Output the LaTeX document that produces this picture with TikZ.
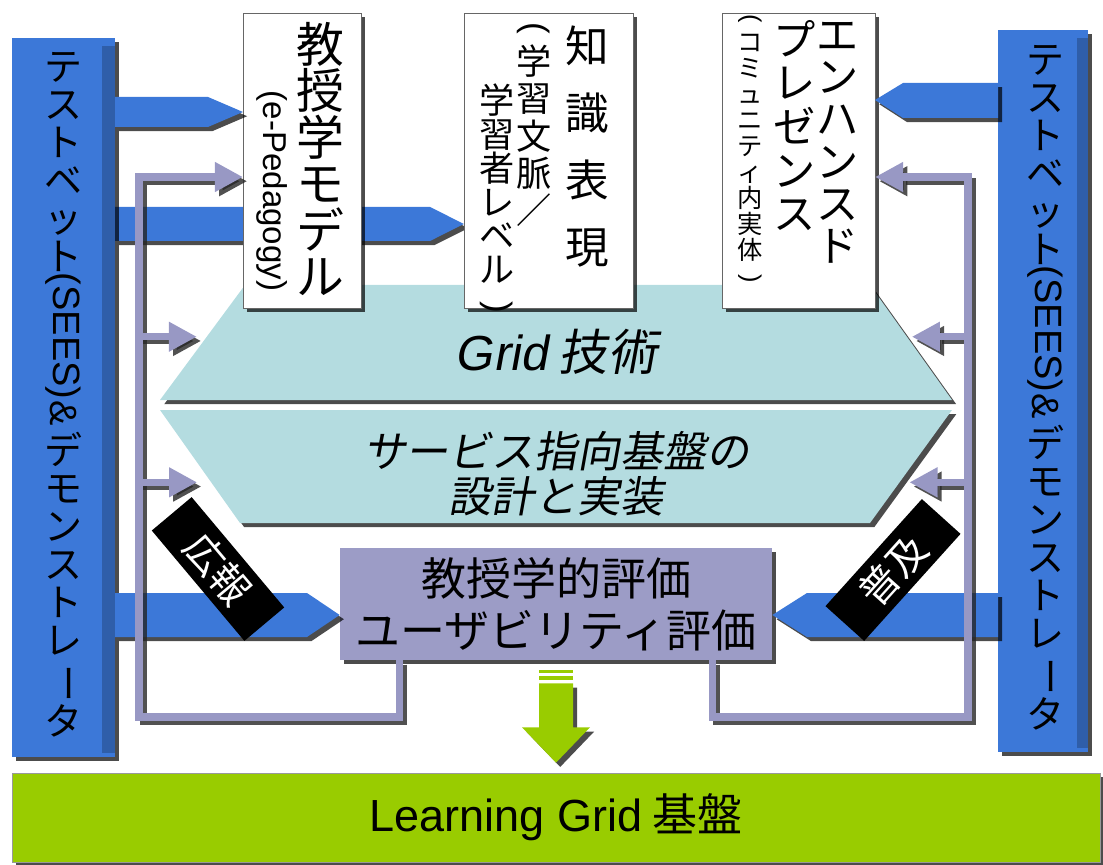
\documentclass[tikz,border=0pt]{standalone}
\usepackage{fontspec}
\usepackage{graphicx}
\usetikzlibrary{arrows.meta,positioning,calc,shadows,backgrounds}

\newfontfamily\jp{Noto Sans CJK JP}
\newfontfamily\jpsl[FakeSlant=0.18]{Noto Sans CJK JP}
\newfontfamily\lat{Liberation Sans}
\newfontfamily\latsl[FakeSlant=0.18]{Liberation Sans}
\newcommand{\rotv}[1]{\rotatebox[origin=c]{-90}{#1}}

\definecolor{barblue}{HTML}{3C78D8}
\definecolor{fblav}{HTML}{9898C4}
\definecolor{evallav}{HTML}{9C9CC6}
\definecolor{gridcyan}{HTML}{B4DCE0}
\definecolor{basegreen}{HTML}{99CC00}

\begin{document}
\begin{tikzpicture}[x=0.025cm, y=-0.025cm,
    dshadow/.style={drop shadow={shadow xshift=3pt, shadow yshift=-3pt, opacity=.7, fill=black}},
    bar/.style={fill=barblue, dshadow, inner sep=0pt, outer sep=0pt},
    topbox/.style={draw=black!60, line width=0.4pt, fill=white, dshadow, inner sep=0pt, outer sep=0pt, minimum height=7.375cm},
    tate/.style={align=center, inner sep=0pt, anchor=north},
    blueflow/.style={fill=barblue, dshadow},
    gridband/.style={fill=gridcyan, dshadow},
    feed/.style={draw=fblav, line width=5pt, -{Triangle[length=20pt,width=20pt]}},
    feedshadow/.style={feed, draw=black!85, opacity=.8, transform canvas={xshift=3pt,yshift=-3pt}},
    tag/.style={fill=black, text=white, font=\jp\fontsize{28}{28}\selectfont, minimum width=3.6cm, minimum height=1.3cm, inner sep=0pt},
]
\useasboundingbox (0,0) rectangle (1103,865);

% Base
\node[fill=basegreen, draw=black!40, line width=0.4pt, dshadow, minimum width=27.2cm, minimum height=2.225cm, inner sep=0pt,
    font=\jp\fontsize{32}{32}\selectfont] (base) at (556,817.5) {{\lat Learning Grid} 基盤};

% Testbed bars
\node[bar, minimum width=2.575cm, minimum height=17.975cm] (lbar) at (63.5,397.5) {};
\node[bar, minimum width=2.25cm, minimum height=18.05cm] (rbar) at (1043,391) {};
\fill[barblue!78!black] ($(lbar.north east)+(-13,8)$) rectangle ($(lbar.south east)+(0,-4)$);
\fill[barblue!78!black] ($(rbar.north east)+(-11,8)$) rectangle ($(rbar.south east)+(0,-4)$);

% Grid / service layers
\coordinate (gtW) at (160,400); \coordinate (gtNW) at (245,285);
\coordinate (gtNE) at (870,285); \coordinate (gtE) at (952,400);
\coordinate (sdW) at (160,410); \coordinate (sdE) at (952,410);
\coordinate (sdSE) at (870,523); \coordinate (sdSW) at (240,523);
\fill[gridband] (gtW) -- (gtNW) -- (gtNE) -- (gtE) -- cycle;
\fill[gridband] (sdW) -- (sdE) -- (sdSE) -- (sdSW) -- cycle;
\node[font=\jpsl\fontsize{35}{35}\selectfont] (gridtech) at (556,352) {{\latsl Grid} 技術};
\node[font=\jpsl\fontsize{30.5}{32}\selectfont, align=center] (soa) at (556,474) {サービス指向基盤の\\設計と実装};

% Top boxes
\node[topbox, minimum width=2.95cm] (boxA) at (302,160.5) {};
\node[topbox, minimum width=4.225cm] (boxB) at (548.5,160.5) {};
\node[topbox, minimum width=3.825cm] (boxC) at (798.5,160.5) {};

% Evaluation
\node[fill=evallav, dshadow, minimum width=10.8cm, minimum height=2.8cm, inner sep=0pt, align=center,
    font=\jp\fontsize{32}{37}\selectfont] (eval) at (556,604) {教授学的評価\\ユーザビリティ評価};

% Flows from the testbeds
\fill[blueflow] (lbar.east |- 0,97) -- (208,97) -- (boxA.west |- 0,112) -- (208,127) -- (lbar.east |- 0,127) -- cycle;
\begin{scope}[on background layer]
\fill[blueflow] (lbar.east |- 0,207) -- (430,207) -- (boxB.west |- 0,224) -- (430,241) -- (lbar.east |- 0,241) -- cycle;
\end{scope}
\fill[blueflow] (rbar.west |- 0,83) -- (903,83) -- (boxC.east |- 0,100) -- (903,118) -- (rbar.west |- 0,118) -- cycle;
\fill[blueflow] (lbar.east |- 0,593) -- (307,593) -- (eval.west |- 0,615) -- (307,637) -- (lbar.east |- 0,637) -- cycle;
\fill[blueflow] (rbar.west |- 0,593) -- (807,593) -- (eval.east |- 0,615) -- (807,637) -- (rbar.west |- 0,637) -- cycle;

% Vertical texts
\node[tate, font=\jp\fontsize{27}{27}\selectfont] (ltxt) at (63,52)
    {テ\\ス\\ト\\ベ\\ッ\\ト\\\rotv{\lat(SEES)}\\\rotv{\lat\&}\\デ\\モ\\ン\\ス\\ト\\レ\\\rotv{ー}\\タ};
\node[tate, font=\jp\fontsize{27}{27}\selectfont] (rtxt) at (1045,45)
    {テ\\ス\\ト\\ベ\\ッ\\ト\\\rotv{\lat(SEES)}\\\rotv{\lat\&}\\デ\\モ\\ン\\ス\\ト\\レ\\\rotv{ー}\\タ};
\node[tate, font=\jp\fontsize{34}{33}\selectfont] (tA1) at (320,22) {教\\授\\学\\モ\\デ\\ル};
\node[rotate=-90, inner sep=0pt, font=\lat\fontsize{23.5}{24}\selectfont] (tA2) at (272,191) {(e-Pedagogy)};
\node[tate, font=\jp\fontsize{31}{47.5}\selectfont] (tB1) at (587,26) {知\\識\\表\\現};
\node[tate, font=\jp\fontsize{25}{26.5}\selectfont] (tB2) at (534,22) {\rotv{\lat(}\\学\\習\\文\\脈\\／};
\node[tate, font=\jp\fontsize{25}{24}\selectfont] (tB3) at (497,84) {学\\習\\者\\レ\\ベ\\ル\\\rotv{\lat)}};
\node[tate, font=\jp\fontsize{30}{30}\selectfont] (tC1) at (838,22) {エ\\ン\\ハ\\ン\\ス\\ド};
\node[tate, font=\jp\fontsize{30}{31}\selectfont] (tC2) at (795,20) {プ\\レ\\ゼ\\ン\\ス};
\node[tate, font=\jp\fontsize{18}{18.5}\selectfont] (tC3) at (750,14) {\rotv{\lat(}\\コ\\ミ\\ュ\\ニ\\テ\\ィ\\内\\実\\体\\\rotv{\lat)}};

% Feedback loops
\coordinate (fbL) at (139,177);
\coordinate (fbR) at (968,177);
\coordinate (fbBot) at (0,717);
\coordinate (evL) at ($(eval.south west)+(60,0)$);
\coordinate (evR) at ($(eval.south east)+(-60,0)$);
\coordinate (gtin) at ($(gtW)!0.55!(gtNW)$);
\coordinate (gtinR) at ($(gtE)!0.55!(gtNE)$);
\coordinate (sdin) at ($(sdW)!0.64!(sdSW)$);
\coordinate (sdinR) at ($(sdE)!0.64!(sdSE)$);
\foreach \ly in {feedshadow, feed} {
  \draw[\ly, shorten >=7pt] (fbL |- gtin) -- (gtin);
  \draw[\ly, shorten >=10pt] (fbL |- sdin) -- (sdin);
  \draw[\ly, shorten >=3.5pt] (fbR |- gtinR) -- (gtinR);
  \draw[\ly, shorten >=7pt] (fbR |- sdinR) -- (sdinR);
  \draw[\ly] (evL) -- (evL |- fbBot) -| (fbL) -- (boxA.west |- fbL);
  \draw[\ly] (evR) -- (evR |- fbBot) -| (fbR) -- (boxC.east |- fbR);
}

% Tags
\node[tag, rotate=-50] (pr) at (218,569) {広報};
\node[tag, rotate=48] (spread) at (893,570) {普及};

% Down to the base
\fill[basegreen] ($(eval.south)+(-17,10)$) rectangle ($(eval.south)+(17,13)$);
\fill[basegreen] ($(eval.south)+(-17,16)$) rectangle ($(eval.south)+(17,20)$);
\fill[basegreen, dshadow] ($(eval.south)+(-17,23)$) -- ($(eval.south)+(17,23)$) -- ($(eval.south)+(17,67)$)
    -- ($(eval.south)+(34,67)$) -- ($(base.north)+(0,-10)$) -- ($(eval.south)+(-34,67)$) -- ($(eval.south)+(-17,67)$) -- cycle;
\end{tikzpicture}
\end{document}
